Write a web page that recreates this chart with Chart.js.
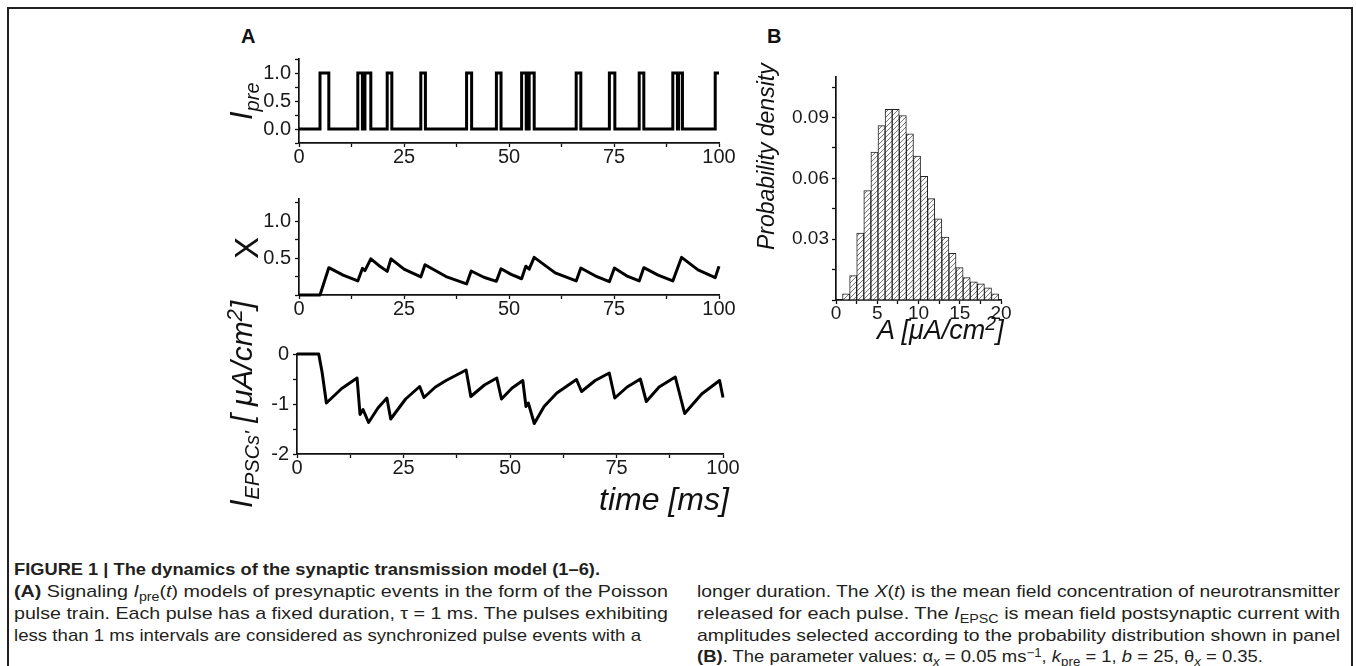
<!DOCTYPE html>
<html>
<head>
<meta charset="utf-8">
<script src="https://cdn.jsdelivr.net/npm/chart.js@4.4.1/dist/chart.umd.min.js"></script>
<style>
body{margin:0;background:#fff;width:1356px;height:666px;overflow:hidden;position:relative;font-family:"Liberation Sans",Arial,sans-serif;color:#111}
.frame{position:absolute;left:7px;top:7px;width:1342px;height:720px;border:2.5px solid #231f20;border-bottom:none}
canvas{position:absolute}
.lbl{position:absolute;white-space:nowrap;color:#111;line-height:1}
.rot{transform-origin:0 0;transform:rotate(-90deg)}
.panel{position:absolute;font-weight:bold;font-size:20px;color:#111}
.cap{position:absolute;font-size:17px;line-height:20px;white-space:nowrap;color:#231f20;transform-origin:0 50%}
.sb{font-size:0.72em;position:relative;top:0.3em}
.sp{font-size:0.72em;position:relative;top:-0.45em}
</style>
</head>
<body>
<div class="frame"></div>

<div class="panel" style="left:241px;top:25px">A</div>
<div class="panel" style="left:767px;top:25px">B</div>

<canvas id="cPre"></canvas>
<canvas id="cX"></canvas>
<canvas id="cEpsc"></canvas>
<canvas id="cHist"></canvas>

<div class="lbl rot" style="left:226px;top:120px;font-style:italic"><span style="font-size:31px">I</span><span style="font-size:20px;position:relative;top:7px">pre</span></div>
<div class="lbl rot" style="left:230px;top:259px;font-size:33px">X</div>
<div class="lbl rot" style="left:226px;top:508px;font-style:italic"><span style="font-size:31px">I</span><span style="font-size:20px;position:relative;top:7px">EPSCs'</span><span style="font-size:30px"> [ μA/cm<span class="sp">2</span>]</span></div>
<div class="lbl" style="left:599px;top:483px;font-size:32px;font-style:italic">time [ms]</div>

<div class="lbl rot" style="left:755px;top:250px;font-size:23px;font-style:italic">Probability density</div>
<div class="lbl" style="left:877px;top:317px;font-size:27px;font-style:italic">A [μA/cm<span class="sp">2</span>]</div>

<div class="cap" data-w="586" style="left:14px;top:560px;font-weight:bold">FIGURE 1 | The dynamics of the synaptic transmission model (1–6).</div>
<div class="cap" data-w="654" style="left:14px;top:582px"><b>(A)</b> Signaling <i>I</i><span class="sb">pre</span>(<i>t</i>) models of presynaptic events in the form of the Poisson</div>
<div class="cap" data-w="654" style="left:14px;top:604px">pulse train. Each pulse has a fixed duration, τ = 1 ms. The pulses exhibiting</div>
<div class="cap" data-w="627" style="left:14px;top:626px">less than 1 ms intervals are considered as synchronized pulse events with a</div>

<div class="cap" data-w="643" style="left:697px;top:582px">longer duration. The <i>X</i>(<i>t</i>) is the mean field concentration of neurotransmitter</div>
<div class="cap" data-w="643" style="left:697px;top:604px">released for each pulse. The <i>I</i><span class="sb">EPSC</span> is mean field postsynaptic current with</div>
<div class="cap" data-w="643" style="left:697px;top:626px">amplitudes selected according to the probability distribution shown in panel</div>
<div class="cap" data-w="566" style="left:697px;top:647px"><b>(B)</b>. The parameter values: α<span class="sb"><i>x</i></span> = 0.05 ms<span class="sp">−1</span>, <i>k</i><span class="sb">pre</span> = 1, <i>b</i> = 25, θ<span class="sb"><i>x</i></span> = 0.35.</div>

<script>
// presynaptic pulse train (ms)
const pulseOn  = [5.0, 14.0, 15.7, 21.0, 29.0, 39.9, 47.0, 53.0, 54.8, 66.0, 73.9, 81.0, 89.0, 90.4, 99.1];
const pulseOff = [7.1, 15.1, 17.1, 22.1, 30.1, 41.1, 48.1, 54.1, 56.0, 67.1, 75.2, 82.1, 90.1, 91.3, 100];

// neurotransmitter concentration X(t)
const xTime = [0, 5.0, 7.1, 10.5, 14.0, 15.1, 15.7, 17.1, 19.0, 21.0, 21.9, 25.0, 29.0, 30.0, 35.0, 39.9, 41.0, 44.0, 47.0, 48.1,
               50.5, 53.0, 54.0, 54.8, 56.0, 61.0, 66.0, 67.1, 70.5, 73.9, 75.1, 78.0, 81.0, 82.1, 85.5, 89.0, 91.1, 95.0, 99.1, 100];
const xConc = [0, 0, 0.37, 0.27, 0.19, 0.36, 0.33, 0.49, 0.40, 0.32, 0.49, 0.35, 0.245, 0.41, 0.25, 0.15, 0.325, 0.24, 0.185, 0.355,
               0.28, 0.22, 0.39, 0.35, 0.51, 0.30, 0.19, 0.365, 0.26, 0.18, 0.365, 0.26, 0.19, 0.37, 0.27, 0.19, 0.51, 0.34, 0.235, 0.39];

// postsynaptic current I_EPSC
const epscTime = [0, 5.1, 5.9, 6.9, 10.5, 14.1, 14.8, 15.5, 16.8, 19.0, 21.1, 22.0, 25.5, 28.8, 29.8, 32.5, 35.0, 39.7, 40.8, 44.0,
                  46.9, 48.0, 50.5, 53.0, 53.75, 54.3, 55.7, 58.0, 61.0, 65.6, 66.8, 70.0, 73.3, 74.6, 77.5, 80.6, 82.0, 85.0, 88.8, 91.0,
                  95.0, 99.2, 100];
const epscVal  = [0, 0, -0.37, -0.98, -0.69, -0.48, -1.21, -1.11, -1.37, -1.08, -0.88, -1.30, -0.90, -0.65, -0.87, -0.66, -0.53, -0.32, -0.85, -0.62,
                  -0.48, -0.90, -0.68, -0.53, -1.05, -0.98, -1.39, -1.05, -0.78, -0.51, -0.75, -0.53, -0.38, -0.88, -0.66, -0.50, -0.95, -0.66, -0.46, -1.19,
                  -0.80, -0.53, -0.87];

// amplitude histogram (panel B)
const binCenters = [1.22, 2.08, 2.94, 3.80, 4.66, 5.52, 6.38, 7.24, 8.10, 8.96, 9.82, 10.68, 11.54, 12.40, 13.26, 14.12,
                    14.98, 15.84, 16.70, 17.56, 18.42, 19.28];
const density    = [0.003, 0.012, 0.033, 0.054, 0.073, 0.086, 0.094, 0.094, 0.091, 0.082, 0.071, 0.061, 0.050, 0.040, 0.031, 0.023,
                    0.016, 0.011, 0.009, 0.008, 0.006, 0.003];

const timeTicks = [0, 25, 50, 75, 100];

const INK = '#111';

function isMult(v, m) {
  return Math.abs(v / m - Math.round(v / m)) < 1e-6;
}

function linScale(min, max, step, fmt, size, pad) {
  return {
    type: 'linear', min: min, max: max, offset: false,
    border: {display: true, color: INK, width: 1.7},
    grid: {display: true, drawOnChartArea: false, drawTicks: true, tickLength: 4, tickColor: INK, tickWidth: 1.3, offset: false},
    ticks: {stepSize: step, autoSkip: false, maxRotation: 0, includeBounds: false, padding: pad, color: '#1a1a1a',
            font: {family: '"Liberation Sans", Arial, sans-serif', size: size}, callback: fmt}
  };
}

const timeFmt = v => timeTicks.includes(Math.round(v)) && isMult(v, 25) ? String(Math.round(v)) : '';

// place a canvas so the plot area lands on the given page rectangle
function build(id, area, cfg) {
  const cv = document.getElementById(id);
  const padL = 100, padT = 20, padR = 40, padB = 40;
  cv.width = area.r - area.l + padL + padR;
  cv.height = area.b - area.t + padT + padB;
  cv.style.left = (area.l - padL) + 'px';
  cv.style.top = (area.t - padT) + 'px';
  cfg.options.responsive = false;
  cfg.options.animation = false;
  cfg.options.events = [];
  cfg.options.layout = {padding: {top: padT, right: padR, left: 0, bottom: 0}};
  cfg.options.plugins = {legend: {display: false}, tooltip: {enabled: false}};
  cfg.options.scales.y.afterFit = s => { s.width = padL; };
  cfg.options.scales.x.afterFit = s => { s.height = padB; };
  return new Chart(cv.getContext('2d'), cfg);
}

function lineCfg(points, xs, ys, join) {
  return {
    type: 'line',
    data: {datasets: [{data: points, borderColor: '#000', borderWidth: 3, pointRadius: 0, tension: 0,
                       clip: false, borderJoinStyle: join, borderCapStyle: 'butt'}]},
    options: {scales: {x: xs, y: ys}}
  };
}

// I_pre step trace from the pulse arrays
const prePoints = [{x: 0, y: 0}];
pulseOn.forEach((on, i) => {
  prePoints.push({x: on, y: 0}, {x: on, y: 1}, {x: pulseOff[i], y: 1});
  if (pulseOff[i] < 100) prePoints.push({x: pulseOff[i], y: 0});
});

build('cPre', {l: 299, r: 719, t: 59, b: 143},
  lineCfg(prePoints, linScale(0, 100, 12.5, timeFmt, 20, -2),
          linScale(-0.25, 1.25, 0.25, v => (v >= 0 && isMult(v, 0.5)) ? v.toFixed(1) : '', 20, 4), 'miter'));

build('cX', {l: 299, r: 719, t: 199, b: 295},
  lineCfg(xTime.map((t, i) => ({x: t, y: xConc[i]})), linScale(0, 100, 12.5, timeFmt, 20, -2),
          linScale(0, 1.3, 0.25, v => (v > 0 && isMult(v, 0.5)) ? v.toFixed(1) : '', 20, 4), 'round'));

build('cEpsc', {l: 297, r: 723, t: 354, b: 454},
  lineCfg(epscTime.map((t, i) => ({x: t, y: epscVal[i]})), linScale(0, 100, 12.5, timeFmt, 20, -2),
          linScale(-2, 0, 0.5, v => isMult(v, 1) ? String(Math.round(v)) : '', 20, 4), 'round'));

// diagonal hatch fill
const tile = document.createElement('canvas');
tile.width = 5; tile.height = 5;
const tg = tile.getContext('2d');
tg.fillStyle = '#fbfbfb'; tg.fillRect(0, 0, 5, 5);
tg.strokeStyle = '#555'; tg.lineWidth = 0.8;
tg.beginPath();
tg.moveTo(-1, 6); tg.lineTo(6, -1);
tg.stroke();
const hatch = tg.createPattern(tile, 'repeat');

build('cHist', {l: 836, r: 1001, t: 77, b: 300}, {
  type: 'bar',
  data: {datasets: [{data: binCenters.map((c, i) => ({x: c, y: density[i]})), backgroundColor: hatch,
                     borderColor: '#222', borderWidth: 1, barPercentage: 1, categoryPercentage: 1, grouped: false}]},
  options: {scales: {
    x: linScale(0, 20, 2.5, v => isMult(v, 5) ? String(Math.round(v)) : '', 19, -2),
    y: linScale(0, 0.11, 0.015, v => (v > 0 && isMult(v, 0.03)) ? v.toFixed(2) : '', 19, 3)
  }}
});

// squeeze caption lines to the condensed widths of the original
document.querySelectorAll('.cap').forEach(el => {
  const w = el.getBoundingClientRect().width;
  el.style.transform = 'scaleX(' + (Number(el.dataset.w) / w) + ')';
});
</script>
</body>
</html>
